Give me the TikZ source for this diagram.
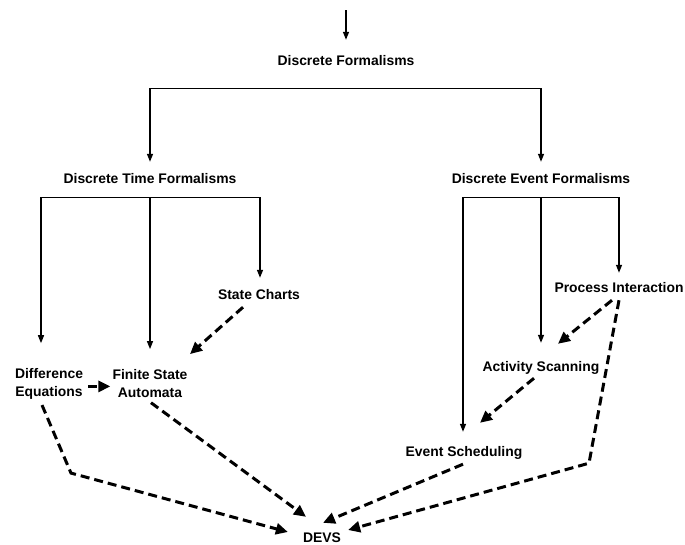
\documentclass[tikz,border=0pt]{standalone}
\usepackage{fontspec}
\setmainfont{Liberation Sans}
\usetikzlibrary{arrows.meta,calc}
\begin{document}
\begin{tikzpicture}[x=1pt,y=-1pt,
  label/.style={inner sep=0pt,font=\fontsize{13.9}{18}\selectfont\bfseries},
  oneline/.style={label,text height=10pt,text depth=0pt},
  twoline/.style={label,align=center},
  tree/.style={line width=1.3pt,-{Triangle[length=8pt,width=6pt]}},
  bar/.style={line width=1.3pt},
  maps/.style={line width=3pt,dash pattern=on 9pt off 5pt,-{Triangle[length=12pt,width=11pt]}}]
\path[use as bounding box] (0,0) rectangle (685,544);

% formalism names
\node[oneline] (df)   at (346,60)  {Discrete Formalisms};
\node[oneline] (dtf)  at (150,178) {Discrete Time Formalisms};
\node[oneline] (def)  at (541,178) {Discrete Event Formalisms};
\node[oneline] (sc)   at (259,294) {State Charts};
\node[twoline] (de)   at (49,383.4)  {Difference\\Equations};
\node[twoline] (fsa)  at (150,383.4) {Finite State\\Automata};
\node[oneline] (pi)   at (619,287) {Process Interaction};
\node[oneline] (as)   at (541,366) {Activity Scanning};
\node[oneline] (es)   at (464,451) {Event Scheduling};
\node[oneline] (devs) at (322,537) {DEVS};

% incoming arrow
\coordinate (entry) at (346,10);
\draw[tree] (entry) -- ($(df.north)+(0,-15)$);

% first split
\coordinate (dfbar) at ($(df.south)+(0,23)$);
\draw[bar] (dfbar -| dtf) -- (dfbar -| def);
\draw[tree] (dfbar -| dtf) -- ($(dtf.north)+(0,-11)$);
\draw[tree] (dfbar -| def) -- ($(def.north)+(0,-11)$);

% discrete time branch
\coordinate (dtbar) at ($(dtf.south)+(0,14)$);
\coordinate (dtL) at ($(dtbar)+(-109,0)$);
\coordinate (dtR) at ($(dtbar)+(110,0)$);
\draw[bar] (dtL) -- (dtR);
\draw[tree] (dtL) -- ($(dtL)+(0,146)$);
\draw[tree] (dtbar) -- ($(fsa.north)+(0,-20)$);
\draw[tree] (dtR) -- ($(sc.north)+(1,-11)$);

% discrete event branch
\coordinate (debar) at ($(def.south)+(0,14)$);
\coordinate (deL) at ($(debar)+(-78,0)$);
\coordinate (deR) at ($(debar)+(78,0)$);
\draw[bar] (deL) -- (deR);
\draw[tree] (deL) -- ($(es.north)+(-1,-14)$);
\draw[tree] (debar) -- ($(as.north)+(0,-18)$);
\draw[tree] (deR) -- ($(pi.north)+(0,-9)$);

% mappings (dashed)
\draw[maps] ($(de.east)+(5,3)$) -- ($(fsa.west)+(-2,3)$);
\draw[maps] ($(sc.south)+(-16,8)$) -- ($(fsa.north)+(40,-15)$);
\draw[maps] ($(fsa.south)+(1,5)$) -- ($(devs.north)+(-16,-15)$);
\draw[maps] ($(de.south)+(-7,6)$) -- ++(29,68) -- ($(devs.west)+(-15,-5)$);
\draw[maps] ($(pi.south)+(-7,8)$) -- ($(as.north)+(17,-17)$);
\draw[maps] ($(pi.south)+(0,8)$) -- ++(-30,163) -- ($(devs.east)+(7,-7)$);
\draw[maps] ($(as.south)+(-7,7)$) -- ($(es.north)+(16,-23)$);
\draw[maps] ($(es.south)+(-1,8)$) -- ($(devs.north)+(1,-9)$);
\end{tikzpicture}
\end{document}
